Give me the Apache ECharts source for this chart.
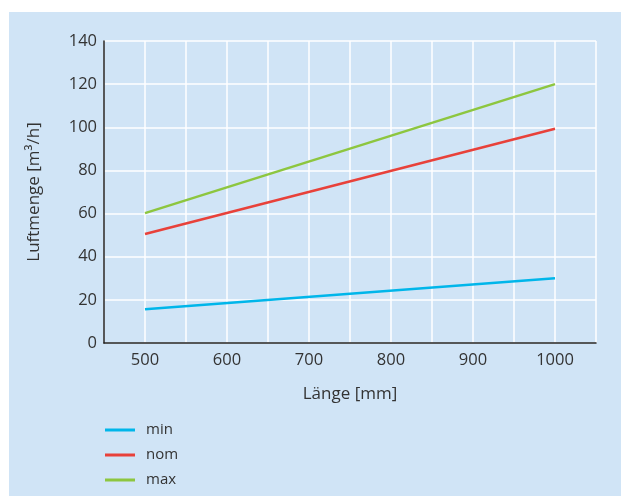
<!DOCTYPE html>
<html>
<head>
<meta charset="utf-8">
<script src="https://cdn.jsdelivr.net/npm/echarts@6/dist/echarts.min.js"></script>
<style>
html,body{margin:0;padding:0;background:#fff;}
#c{position:absolute;left:9px;top:12px;width:612px;height:484px;}
</style>
</head>
<body>
<div id="c"></div>
<script>
const lengths = [500, 1000];
const minValues = [15.6, 30];
const nomValues = [50.5, 99.3];
const maxValues = [60.2, 120];
const seriesNames = ['min', 'nom', 'max'];
const xTicks = [500, 600, 700, 800, 900, 1000];

const toPairs = vals => lengths.map((x, i) => [x, vals[i]]);
const textColor = '#333333';
const font = 'Open Sans';

const chart = echarts.init(document.getElementById('c'));
chart.setOption({
  backgroundColor: '#d0e4f6',
  animation: false,
  textStyle: { fontFamily: font },
  grid: { left: 95, top: 29, right: 25, bottom: 153, containLabel: false },
  xAxis: {
    type: 'value', min: 450, max: 1050, interval: 50,
    name: 'Länge [mm]', nameLocation: 'middle', nameGap: 43,
    nameTextStyle: { color: textColor, fontSize: 17, fontFamily: font },
    axisLine: { show: true, lineStyle: { color: '#222', width: 1.5 } },
    axisTick: { show: false },
    axisLabel: {
      color: textColor, fontSize: 16.5, fontFamily: font, margin: 9,
      formatter: v => xTicks.includes(v) ? String(v) : ''
    },
    splitLine: { show: true, lineStyle: { color: '#ffffff', width: 1.5 } }
  },
  yAxis: {
    type: 'value', min: 0, max: 140, interval: 20,
    name: 'Luftmenge [m³/h]', nameLocation: 'middle', nameGap: 61, nameRotate: 90,
    nameTextStyle: { color: textColor, fontSize: 17, fontFamily: font },
    axisLine: { show: true, lineStyle: { color: '#222', width: 1.5 } },
    axisTick: { show: false },
    axisLabel: { color: textColor, fontSize: 16.5, fontFamily: font, margin: 7 },
    splitLine: { show: true, lineStyle: { color: '#ffffff', width: 1.5 } }
  },
  legend: {
    orient: 'vertical', left: 91, top: 405.5,
    icon: 'rect', itemWidth: 30, itemHeight: 3, itemGap: 10,
    textStyle: { color: textColor, fontSize: 15, fontFamily: font, padding: [0, 0, 0, 6] },
    data: seriesNames
  },
  series: [
    { name: seriesNames[0], type: 'line', data: toPairs(minValues), showSymbol: false, symbol: 'none', lineStyle: { color: '#00b6ea', width: 2.5 }, itemStyle: { color: '#00b6ea' } },
    { name: seriesNames[1], type: 'line', data: toPairs(nomValues), showSymbol: false, symbol: 'none', lineStyle: { color: '#e8413a', width: 2.5 }, itemStyle: { color: '#e8413a' } },
    { name: seriesNames[2], type: 'line', data: toPairs(maxValues), showSymbol: false, symbol: 'none', lineStyle: { color: '#8dc63f', width: 2.5 }, itemStyle: { color: '#8dc63f' } }
  ]
});
</script>
</body>
</html>
